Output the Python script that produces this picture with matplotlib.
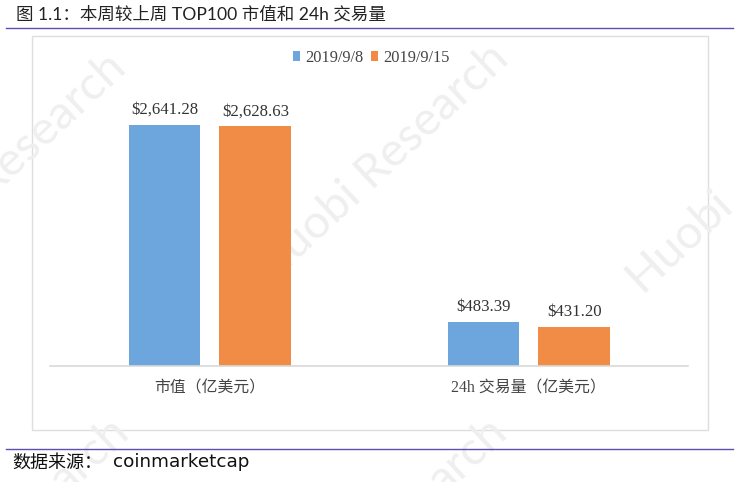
import matplotlib
matplotlib.use("Agg")
import matplotlib.pyplot as plt
from matplotlib.patches import Rectangle
from matplotlib.lines import Line2D

categories = ["市值（亿美元）", "24h 交易量（亿美元）"]
series_names = ["2019/9/8", "2019/9/15"]
values_0908 = [2641.28, 483.39]
values_0915 = [2628.63, 431.20]
colors = ["#6CA6DC", "#F18C47"]
title = "图 1.1：本周较上周 TOP100 市值和 24h 交易量"
source_label = "数据来源："
source_value = "coinmarketcap"
W, H = 742, 482
LATIN_CJK = ["Lato", "Noto Sans CJK SC"]
SERIF_CJK = ["Liberation Serif", "Noto Sans CJK SC"]

fig = plt.figure(figsize=(W / 100, H / 100), dpi=100, facecolor="white")
bg = fig.add_axes([0, 0, 1, 1], zorder=0)
bg.set_xlim(0, W); bg.set_ylim(H, 0); bg.axis("off")

bg.add_patch(Rectangle((31.5, 35.5), 676, 394, fc="white", ec="#DEDEDE", lw=1, zorder=0.2))
for y in (27.5, 448.5):
    bg.add_line(Line2D([6, 733], [y, y], color="#5B4FB0", lw=1, zorder=5))
bg.text(16, 14.5, title, family=LATIN_CJK, fontsize=12.6, color="#222222", va="center", ha="left", zorder=5)
bg.text(12, 462.5, source_label, family=LATIN_CJK, fontsize=13, color="#111111", va="center", ha="left", zorder=5)
bg.text(113, 462, source_value, family="DejaVu Sans", fontsize=13.2, color="#111111", va="center", ha="left", zorder=5)

# Pale watermark repeated across the page: (text, x, y, ha)
marks = [("Huobi Research", 502, 52, "right"), ("Research", 119, 58, "right"),
         ("Huobi", 633, 283, "left"), ("arch", 122, 425, "right"), ("arch", 500, 425, "right")]
for s, x, y, ha in marks:
    bg.text(x, y, s, family="Lato", fontsize=34, color="#EFEFEF", zorder=0.5,
            rotation=43, rotation_mode="anchor", ha=ha, va="center", clip_on=True)

ax = fig.add_axes([50.4 / W, 1 - 366 / H, 638 / W, (366 - 60) / H], zorder=2)
ax.patch.set_alpha(0)
width = 0.225
offset = 0.1425
pos = [0.0, 1.0]
ax.bar([p - offset for p in pos], values_0908, width, color=colors[0], label=series_names[0])
ax.bar([p + offset for p in pos], values_0915, width, color=colors[1], label=series_names[1])
ax.set_xlim(-0.5, 1.5)
ax.set_ylim(0, 306 / (241 / 2641.28))
ax.set_xticks(pos)
ax.set_xticklabels(categories, family=SERIF_CJK, fontsize=11.4, color="#444444")
ax.tick_params(axis="x", length=0, pad=10.5)
ax.set_yticks([])
for s in ("top", "left", "right"):
    ax.spines[s].set_visible(False)
ax.spines["bottom"].set_color("#D9D9D9")
ax.spines["bottom"].set_linewidth(1.2)

for i, p in enumerate(pos):
    ax.annotate(f"${values_0908[i]:,.2f}", (p - offset, values_0908[i]), xytext=(0, 5),
                textcoords="offset points", ha="center", va="bottom",
                family="Liberation Serif", fontsize=12.1, color="#333333")
    ax.annotate(f"${values_0915[i]:,.2f}", (p + offset, values_0915[i]), xytext=(0, 5),
                textcoords="offset points", ha="center", va="bottom",
                family="Liberation Serif", fontsize=12.1, color="#333333")

leg = ax.legend(loc="center", bbox_to_anchor=(0.503, 1.0065), ncol=2, frameon=False,
                prop={"family": "Liberation Serif", "size": 11.8}, handlelength=0.42,
                handleheight=0.6, handletextpad=0.3, columnspacing=0.5)
for t in leg.get_texts():
    t.set_color("#444444")

fig.savefig("out.png", dpi=100)
